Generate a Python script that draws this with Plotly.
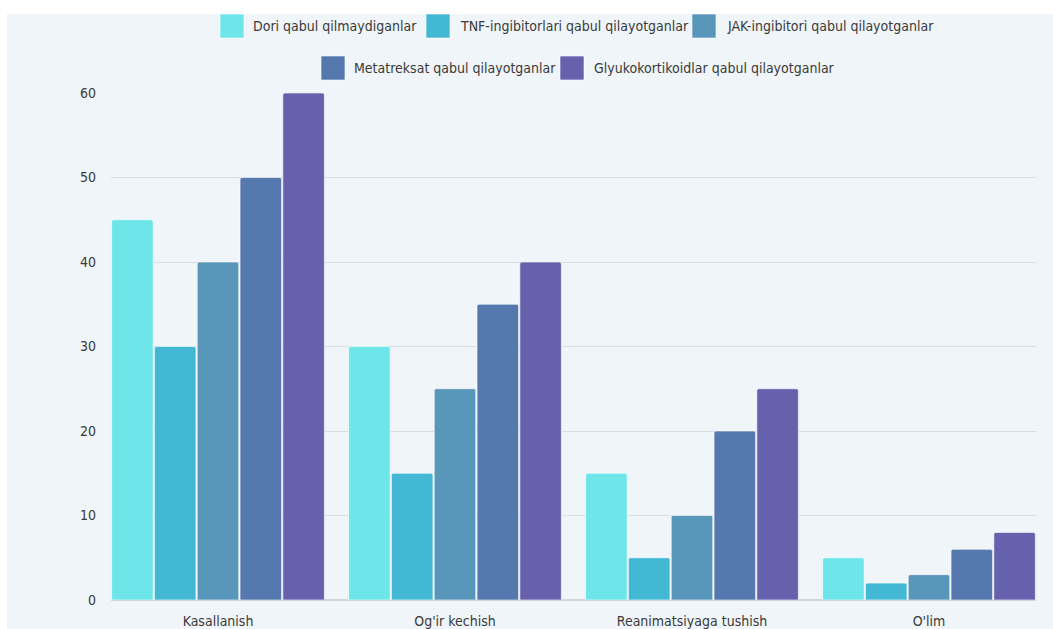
import plotly.graph_objects as go

categories = ["Kasallanish", "Og'ir kechish", "Reanimatsiyaga tushish", "O'lim"]
series_names = [
    "Dori qabul qilmaydiganlar",
    "TNF-ingibitorlari qabul qilayotganlar",
    "JAK-ingibitori qabul qilayotganlar",
    "Metatreksat qabul qilayotganlar",
    "Glyukokortikoidlar qabul qilayotganlar",
]
dori = [45, 30, 15, 5]
tnf = [30, 15, 5, 2]
jak = [40, 25, 10, 3]
metatreksat = [50, 35, 20, 6]
glyuko = [60, 40, 25, 8]
series_values = [dori, tnf, jak, metatreksat, glyuko]
colors = ["#6DE5E9", "#43B8D5", "#5896BA", "#5578AF", "#6661AD"]
y_ticks = [0, 10, 20, 30, 40, 50, 60]

W, H = 1053, 629
L, R, T, B = 111, 17, 93, 29
PW, PH = W - L - R, H - T - B

FONT = "DejaVu Sans Condensed, Liberation Sans Narrow, Roboto, sans-serif"
TXT = "#3a3a3a"

def px(x):
    return (x - L) / PW

def py(y):
    return (H - B - y) / PH

fig = go.Figure()
for name, vals, c in zip(series_names, series_values, colors):
    fig.add_trace(go.Bar(
        name=name, x=categories, y=vals,
        marker=dict(color=c, line=dict(color="rgba(255,255,255,0.6)", width=1), cornerradius=2),
        showlegend=False,
    ))

shapes = [
    dict(type="rect", xref="paper", yref="paper", x0=px(0), x1=px(W), y0=py(14), y1=py(0),
         fillcolor="white", line=dict(width=0), layer="below"),
    dict(type="rect", xref="paper", yref="paper", x0=px(0), x1=px(7), y0=py(H), y1=py(0),
         fillcolor="white", line=dict(width=0), layer="below"),
]
annotations = []
legend_rows = [
    [(0, 220, 251), (1, 426, 458), (2, 692, 725)],
    [(3, 321, 352), (4, 560, 592)],
]
row_y = [26, 68]
for row, yc in zip(legend_rows, row_y):
    for idx, sx, tx in row:
        shapes.append(dict(type="rect", xref="paper", yref="paper",
                           x0=px(sx), x1=px(sx + 24), y0=py(yc + 12), y1=py(yc - 12),
                           fillcolor=colors[idx], line=dict(color="rgba(255,255,255,0.6)", width=1)))
        annotations.append(dict(xref="paper", yref="paper", x=px(tx), y=py(yc),
                                text=series_names[idx], showarrow=False,
                                xanchor="left", yanchor="middle",
                                font=dict(family=FONT, size=14, color=TXT)))

span = PW / 237.0
fig.update_layout(
    width=W, height=H,
    margin=dict(l=L, r=R, t=T, b=B, pad=0, autoexpand=False),
    paper_bgcolor="#EFF5F8",
    plot_bgcolor="rgba(0,0,0,0)",
    barmode="group",
    bargap=0.097,
    bargroupgap=0.03,
    font=dict(family=FONT, size=14, color=TXT),
    shapes=shapes,
    annotations=annotations,
    xaxis=dict(
        type="category", automargin=False,
        range=[1.5 - span / 2, 1.5 + span / 2],
        showgrid=False, showline=False, zeroline=False,
        ticks="", ticklabelstandoff=11,
        tickfont=dict(family=FONT, size=14, color=TXT),
    ),
    yaxis=dict(
        range=[0, 60], automargin=False,
        tickvals=y_ticks,
        showgrid=True, gridcolor="#D9DEE2", gridwidth=1,
        zeroline=True, zerolinecolor="#D3D7DB", zerolinewidth=2,
        showline=False, ticks="", ticklabelstandoff=14,
        tickfont=dict(family=FONT, size=14, color=TXT),
    ),
)

fig.write_html("out.html")
